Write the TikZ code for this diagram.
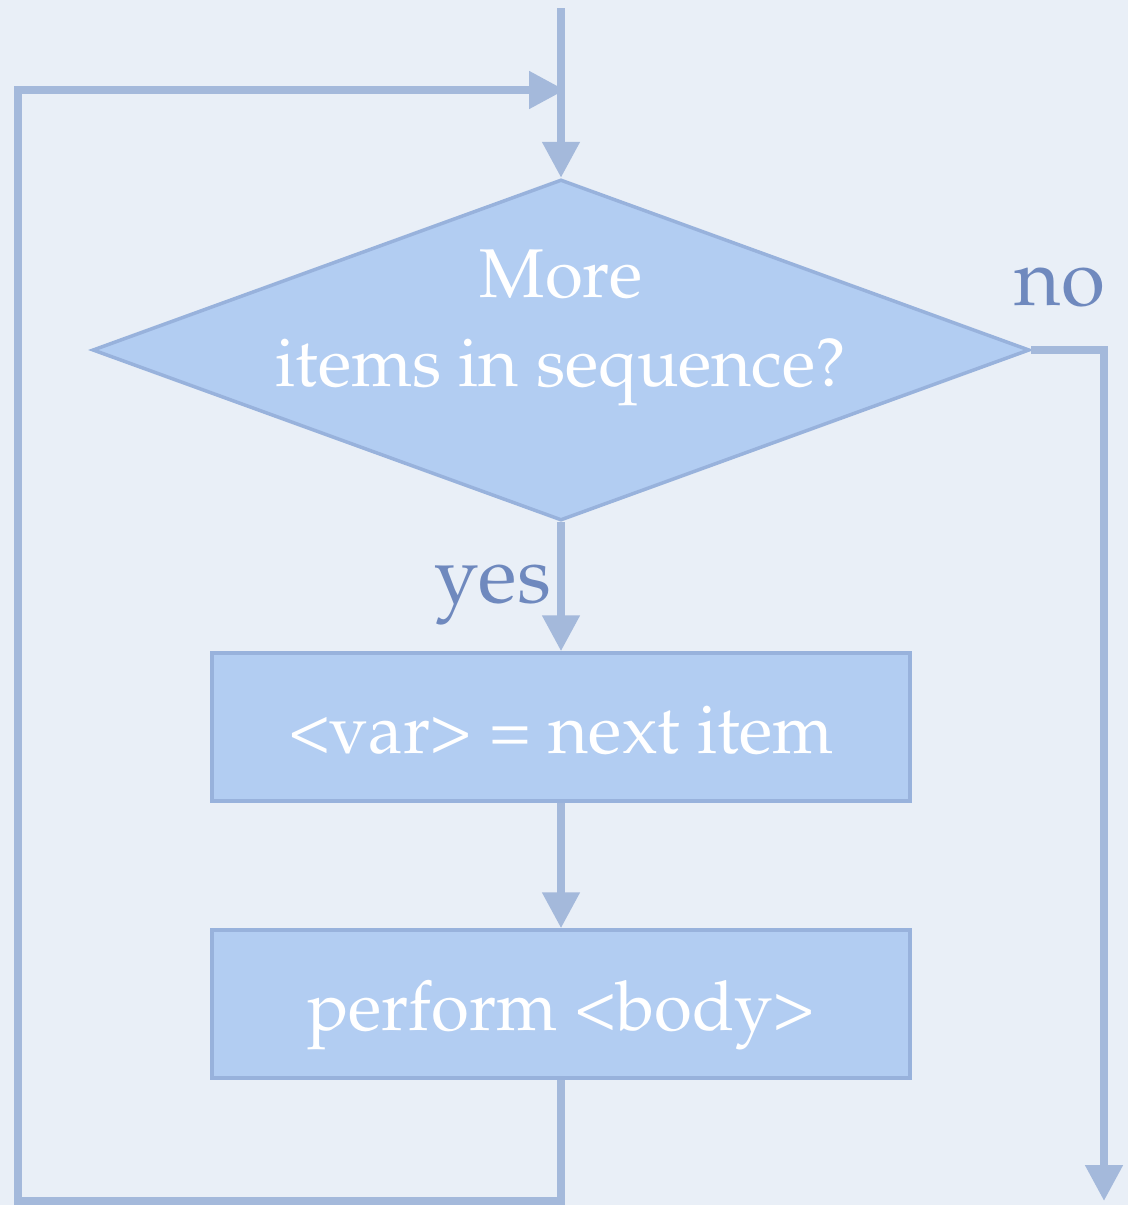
\documentclass[tikz,border=0pt]{standalone}
\usepackage[T1]{fontenc}
\usepackage{mathpazo}
\usetikzlibrary{shapes.geometric,arrows.meta,positioning}
\definecolor{paper}{RGB}{233,239,247}
\definecolor{wire}{RGB}{164,185,219}
\definecolor{boxfill}{RGB}{178,205,242}
\definecolor{boxline}{RGB}{152,178,220}
\definecolor{tagblue}{RGB}{111,137,190}

\begin{document}
\begin{tikzpicture}[x=1pt, y=-1pt, node distance=129pt,
	flow/.style={draw=wire, line width=8pt, -{Triangle[length=36pt,width=36pt]}},
	decision/.style={diamond, draw=boxline, fill=boxfill, line width=3.5pt, minimum width=937pt, minimum height=341pt, inner sep=0pt},
	question/.style={align=center, text=white, font=\fontsize{69}{89}\selectfont},
	stepbox/.style={rectangle, draw=boxline, fill=boxfill, line width=4pt, minimum width=698pt, minimum height=148pt, text height=62pt, text depth=10pt, text=white, font=\fontsize{69}{80}\selectfont},
	tag/.style={text=tagblue, font=\fontsize{80}{90}\selectfont, inner sep=0pt}]
	\fill[paper] (0,0) rectangle (1128,1205);
	\useasboundingbox (0,0) rectangle (1128,1205);
	\node[decision] (cond) at (561,350) {};
	\node[question] (ask) at (561,328) {More\\items in sequence?};
	\node[stepbox] (fetch) [below=of cond] {<var> = next item};
	\node[stepbox] (body) [node distance=125pt, below=of fetch] {perform <body>};
	\coordinate (entry) at (561,8);
	\coordinate (merge) at (565,90);
	\coordinate (back) at (18,1201);
	\coordinate (exit) at (1104,1201);
	
	\draw[flow] (entry) -- (cond.north);
	\draw[flow] (cond.south) -- node[tag, anchor=base east, pos=0.62, xshift=-6pt] {yes} (fetch.north);
	\draw[flow] (fetch) -- (body);
	\draw[flow] (cond.east) -| node[tag, anchor=base east, pos=0.5, xshift=5pt, yshift=45pt] {no} (exit);
	\draw[flow] (body.south) |- (back) |- (merge);
\end{tikzpicture}
\end{document}
